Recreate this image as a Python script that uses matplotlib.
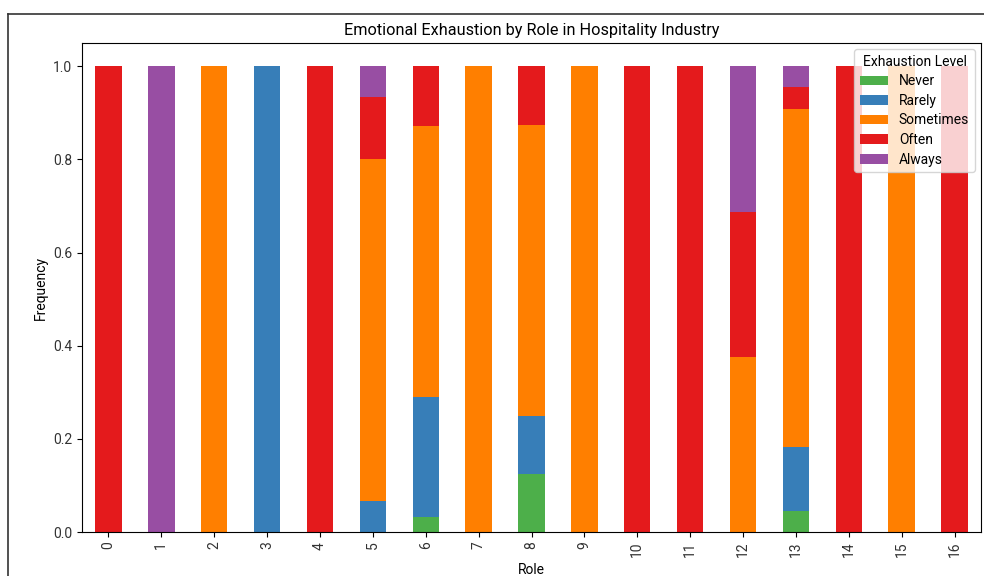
import matplotlib
matplotlib.use("Agg")
import matplotlib.pyplot as plt
from matplotlib.lines import Line2D
import numpy as np
import pandas as pd

plt.rcParams['font.family'] = ['Roboto', 'DejaVu Sans']

roles = list(range(17))
levels = ["Never", "Rarely", "Sometimes", "Often", "Always"]
colors = ["#4daf4a", "#377eb8", "#ff7f00", "#e41a1c", "#984ea3"]

# response counts per role
never     = [0, 0, 0, 0, 0, 0, 1,  0, 1, 0, 0, 0, 0, 1,  0, 0, 0]
rarely    = [0, 0, 0, 1, 0, 1, 8,  0, 1, 0, 0, 0, 0, 3,  0, 0, 0]
sometimes = [0, 0, 1, 0, 0, 11, 18, 1, 5, 1, 0, 0, 6, 16, 0, 1, 0]
often     = [1, 0, 0, 0, 1, 2, 4,  0, 1, 0, 1, 1, 5, 1,  1, 0, 1]
always    = [0, 1, 0, 0, 0, 1, 0,  0, 0, 0, 0, 0, 5, 1,  0, 0, 0]

counts = pd.DataFrame(
    {"Never": never, "Rarely": rarely, "Sometimes": sometimes,
     "Often": often, "Always": always},
    index=pd.Index(roles, name="Role"),
)
freq = counts.div(counts.sum(axis=1), axis=0)

fig = plt.figure(figsize=(9.84, 5.76), dpi=100)
ax = fig.add_axes([82 / 984, 44 / 576, 899 / 984, 489 / 576])

freq.plot(kind="bar", stacked=True, ax=ax, color=colors, width=0.5)

ax.set_title("Emotional Exhaustion by Role in Hospitality Industry", fontsize=11.7)
ax.set_xlabel("Role", fontsize=10)
ax.set_ylabel("Frequency", fontsize=10)
ax.tick_params(axis="both", labelsize=10, labelcolor="#333333")
ax.legend(title="Exhaustion Level", loc="upper right", fontsize=10,
          title_fontsize=10, labelspacing=0.4, borderaxespad=0.45)

# outer frame lines (left and top)
fig.add_artist(Line2D([8 / 984, 8 / 984], [0, 1 - 14 / 576], transform=fig.transFigure,
                      color="#333333", linewidth=1.2))
fig.add_artist(Line2D([8 / 984, 1], [1 - 14 / 576, 1 - 14 / 576], transform=fig.transFigure,
                      color="#333333", linewidth=1.2))

fig.savefig("out.png", dpi=100)
